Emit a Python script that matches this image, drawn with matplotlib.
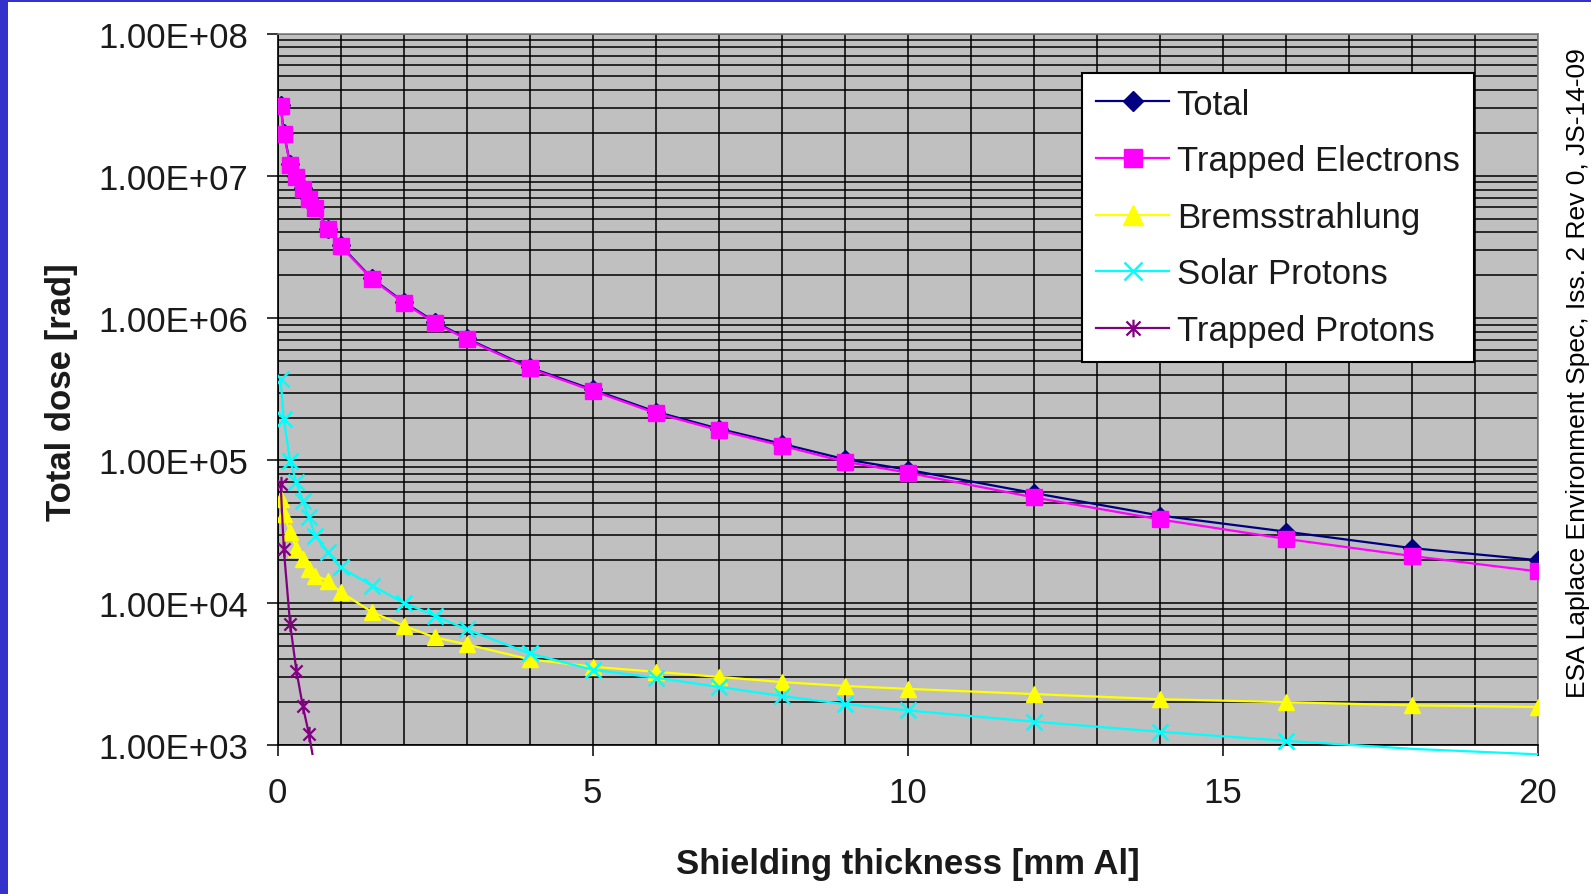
import matplotlib
matplotlib.use("Agg")
import matplotlib.pyplot as plt
from matplotlib.path import Path
from matplotlib.patches import Rectangle
from matplotlib.ticker import LogLocator, MultipleLocator, FuncFormatter, NullFormatter

plt.rcParams['font.family'] = ['Liberation Sans', 'DejaVu Sans']

# Shielding thickness [mm Al]
thickness = [0.05, 0.1, 0.2, 0.3, 0.4, 0.5, 0.6, 0.8, 1.0, 1.5, 2.0, 2.5, 3.0,
             4.0, 5.0, 6.0, 7.0, 8.0, 9.0, 10.0, 12.0, 14.0, 16.0, 18.0, 20.0]

# Dose [rad] per component
total = [3.15e7, 2.0e7, 1.22e7, 9.9e6, 8.2e6, 7.0e6, 6.0e6, 4.25e6, 3.25e6,
         1.9e6, 1.3e6, 9.4e5, 7.2e5, 4.5e5, 3.15e5, 2.2e5, 1.67e5, 1.31e5,
         1.02e5, 8.6e4, 5.9e4, 4.1e4, 3.16e4, 2.42e4, 1.99e4]
trapped_electrons = [3.1e7, 1.97e7, 1.2e7, 9.8e6, 8.1e6, 6.9e6, 5.9e6, 4.2e6,
                     3.2e6, 1.88e6, 1.28e6, 9.25e5, 7.1e5, 4.43e5, 3.09e5,
                     2.15e5, 1.63e5, 1.27e5, 9.8e4, 8.2e4, 5.5e4, 3.85e4,
                     2.81e4, 2.13e4, 1.66e4]
bremsstrahlung = [5.36e4, 4.2e4, 3.14e4, 2.38e4, 2.03e4, 1.73e4, 1.55e4,
                  1.43e4, 1.19e4, 8.6e3, 6.9e3, 5.7e3, 5.1e3, 4.0e3, 3.55e3,
                  3.27e3, 3.01e3, 2.77e3, 2.6e3, 2.48e3, 2.28e3, 2.1e3,
                  2.0e3, 1.9e3, 1.85e3]
solar_protons = [3.73e5, 1.95e5, 9.95e4, 7.0e4, 5.2e4, 3.98e4, 2.96e4, 2.26e4,
                 1.77e4, 1.32e4, 1.0e4, 8.1e3, 6.5e3, 4.4e3, 3.38e3, 2.97e3,
                 2.56e3, 2.21e3, 1.94e3, 1.75e3, 1.46e3, 1.24e3, 1.07e3,
                 9.4e2, 8.6e2]
tp_thickness = [0.05, 0.1, 0.2, 0.3, 0.4, 0.5, 0.6, 0.8]
trapped_protons = [6.8e4, 2.38e4, 7.1e3, 3.33e3, 1.89e3, 1.19e3, 6.6e2, 3.0e2]

Y_MIN, Y_MAX = 1e3, 1e8

# Excel-style star marker: an "x" crossed by a vertical bar
star = Path([(-1, -1), (1, 1), (-1, 1), (1, -1), (0, -1.25), (0, 1.25)],
            [Path.MOVETO, Path.LINETO, Path.MOVETO, Path.LINETO,
             Path.MOVETO, Path.LINETO])


def shown(values):
    """Indices of points inside the value axis range (markers drawn only there)."""
    return [i for i, v in enumerate(values) if Y_MIN <= v <= Y_MAX]


fig = plt.figure(figsize=(15.91, 8.95), dpi=100)
fig.patch.set_facecolor('white')

# slide frame on the left and top
fig.patches.append(Rectangle((0, 0), 8 / 1591, 1, transform=fig.transFigure,
                             facecolor='#3333cc', edgecolor='none', zorder=0))
fig.patches.append(Rectangle((0, 1 - 3 / 895), 1, 3 / 895, transform=fig.transFigure,
                             facecolor='#3333cc', edgecolor='none', zorder=0))

L, R, T, B = 277.5, 1537.7, 34.5, 746.0
ax = fig.add_axes([L / 1591, 1 - B / 895, (R - L) / 1591, (B - T) / 895])
ax.set_facecolor('#c0c0c0')

ax.set_yscale('log')
ax.set_xlim(0, 20)
ax.set_ylim(Y_MIN, Y_MAX)

ax.xaxis.set_major_locator(MultipleLocator(5))
ax.xaxis.set_minor_locator(MultipleLocator(1))
ax.yaxis.set_major_locator(LogLocator(base=10, numticks=10))
ax.yaxis.set_minor_locator(LogLocator(base=10, subs=range(2, 10), numticks=20))
ax.yaxis.set_major_formatter(FuncFormatter(lambda v, p: f"{v:.2E}"))
ax.yaxis.set_minor_formatter(NullFormatter())

ax.grid(True, which='both', axis='both', color='black', linewidth=1.1)
ax.set_axisbelow(True)

ax.tick_params(which='major', direction='out', length=8, width=1.1, color='black',
               labelsize=25, labelcolor='#1a1a1a')
ax.tick_params(which='minor', length=0)
ax.tick_params(axis='y', which='major', pad=13)
ax.tick_params(axis='x', which='major', pad=14)

for side in ('left', 'bottom'):
    ax.spines[side].set_color('black')
    ax.spines[side].set_linewidth(1.2)
for side in ('top', 'right'):
    ax.spines[side].set_color('#808080')
    ax.spines[side].set_linewidth(1.2)

# series lines may run a little past the bottom of the plot area
h = B - T
clip_box = Rectangle((0, -10 / h), 1, 1 + 10 / h, transform=ax.transAxes,
                     facecolor='none', edgecolor='none')
ax.add_patch(clip_box)

lw = 1.6
lines = [
    ax.plot(thickness, total, color='#000080', lw=lw, marker='D', ms=9,
            markevery=shown(total), label='Total', zorder=3)[0],
    ax.plot(thickness, trapped_electrons, color='#ff00ff', lw=lw, marker='s', ms=11,
            markevery=shown(trapped_electrons), label='Trapped Electrons', zorder=4)[0],
    ax.plot(thickness, bremsstrahlung, color='#ffff00', lw=lw, marker='^', ms=12,
            markevery=shown(bremsstrahlung), label='Bremsstrahlung', zorder=3)[0],
    ax.plot(thickness, solar_protons, color='#00ffff', lw=lw, marker='x', ms=11,
            mew=1.8, markevery=shown(solar_protons), label='Solar Protons', zorder=4)[0],
    ax.plot(tp_thickness, trapped_protons, color='#800080', lw=lw, marker=star, ms=11,
            mew=1.6, markevery=shown(trapped_protons), label='Trapped Protons', zorder=4)[0],
]
for ln in lines:
    ln.set_clip_path(clip_box)

leg = ax.legend(loc='upper left', bbox_to_anchor=(0.638, 0.9445), borderaxespad=0,
                fontsize=25, frameon=True, fancybox=False, framealpha=1,
                edgecolor='black', handlelength=2.1, handletextpad=0.22,
                borderpad=0.42, labelspacing=0.68, markerscale=1.15)
leg.get_frame().set_linewidth(1.5)
for t in leg.get_texts():
    t.set_color('#1a1a1a')

fig.text(61 / 1591, 1 - 392 / 895, 'Total dose [rad]', rotation=90,
         fontsize=25, fontweight='bold', ha='center', va='center', color='#1a1a1a')
fig.text(908 / 1591, 1 - 865 / 895, 'Shielding thickness [mm Al]',
         fontsize=25, fontweight='bold', ha='center', va='center', color='#1a1a1a')
fig.text(1578 / 1591, 1 - 373 / 895,
         'ESA Laplace Environment Spec, Iss. 2 Rev 0, JS-14-09', rotation=90,
         fontsize=19, ha='center', va='center', color='black')

fig.savefig('out.png', dpi=100)
